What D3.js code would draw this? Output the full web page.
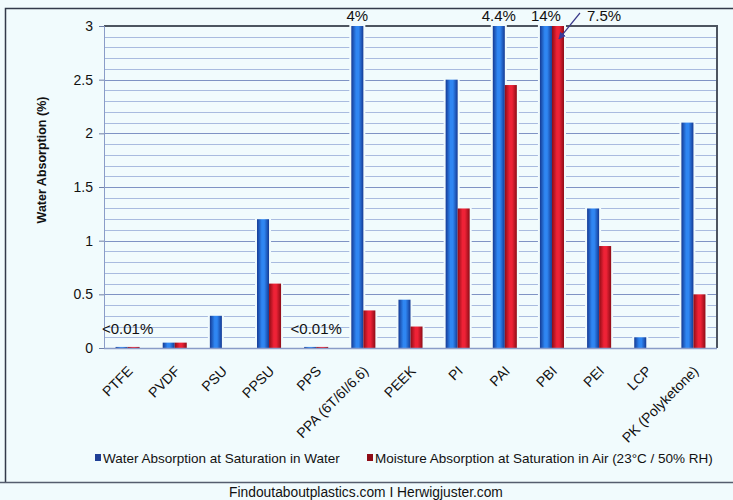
<!DOCTYPE html>
<html><head><meta charset="utf-8">
<script src="https://cdn.jsdelivr.net/npm/d3@7"></script>
<style>body{margin:0;background:#f1fbfd;} svg{display:block;font-family:"Liberation Sans",Arial,sans-serif;}</style>
</head><body>
<script>
const categories = ["PTFE","PVDF","PSU","PPSU","PPS","PPA (6T/6I/6.6)","PEEK","PI","PAI","PBI","PEI","LCP","PK (Polyketone)"];
const waterValues = [0.01,0.05,0.3,1.2,0.01,3,0.45,2.5,3,3,1.3,0.1,2.1];
const airValues   = [0.01,0.05,0,0.6,0.01,0.35,0.2,1.3,2.45,3,0.95,0,0.5];
const seriesNames = ["Water Absorption at Saturation in Water","Moisture Absorption at Saturation in Air (23°C / 50% RH)"];
const yTicks = [0,0.5,1,1.5,2,2.5,3];
const annotations = [
  {cat:"PPA (6T/6I/6.6)", s:0, text:"4%"},
  {cat:"PAI", s:0, text:"4.4%"},
  {cat:"PBI", s:0, text:"14%"}
];
const lowLabels = [{cat:"PTFE", text:"<0.01%"},{cat:"PPS", text:"<0.01%"}];

const W=733,H=500;
const svg=d3.select("body").append("svg").attr("width",W).attr("height",H);
svg.append("rect").attr("width",W).attr("height",H).attr("fill","#f1fbfd");
// outer frame
svg.append("path").attr("d","M5.5,482 L5.5,8.5 L733,8.5").attr("fill","none").attr("stroke","#333a4a").attr("stroke-width",1.5);
svg.append("line").attr("x1",0).attr("x2",W).attr("y1",482.5).attr("y2",482.5).attr("stroke","#555d6e").attr("stroke-width",1.5);

const defs=svg.append("defs");
function grad(id,edge,mid){
  const g=defs.append("linearGradient").attr("id",id).attr("x1","0").attr("x2","1").attr("y1","0").attr("y2","0");
  g.append("stop").attr("offset","0%").attr("stop-color",edge);
  g.append("stop").attr("offset","40%").attr("stop-color",mid);
  g.append("stop").attr("offset","60%").attr("stop-color",mid);
  g.append("stop").attr("offset","100%").attr("stop-color",edge);
}
grad("gb","#143a94","#2f86f2");
grad("gr","#8e0c16","#ee2236");

const m={l:104,r:717,t:26,b:348};
const x0=d3.scaleBand().domain(categories).range([m.l,m.r]).paddingInner(0.49).paddingOuter(0.245);
const x1=d3.scaleBand().domain([0,1]).range([0,x0.bandwidth()]);
const y=d3.scaleLinear().domain([0,3]).range([m.b,m.t]);

// gridlines
const minor=d3.range(1,30).map(d=>d/10);
svg.append("g").selectAll("line").data(minor).join("line")
  .attr("x1",m.l).attr("x2",m.r).attr("y1",d=>Math.round(y(d))+0.5).attr("y2",d=>Math.round(y(d))+0.5)
  .attr("stroke",d=>Math.abs(d*2-Math.round(d*2))<1e-6?"#7f93c4":"#a9bbdf").attr("stroke-width",1.2);
svg.append("line").attr("x1",m.l).attr("x2",m.r+1).attr("y1",m.t).attr("y2",m.t).attr("stroke","#4d5560").attr("stroke-width",2);
svg.append("line").attr("x1",m.r).attr("x2",m.r).attr("y1",m.t).attr("y2",m.b).attr("stroke","#4d5560").attr("stroke-width",2);

// y axis
const ya=svg.append("g").attr("transform",`translate(${m.l},0)`).call(d3.axisLeft(y).tickValues(yTicks).tickFormat(d3.format("")).tickSize(5).tickPadding(6));
ya.select(".domain").attr("stroke","#8a9cc8");
ya.selectAll(".tick line").attr("stroke","#6f7fa8");
ya.selectAll("text").attr("font-size",14).attr("fill","#111");
svg.append("text").attr("transform",`translate(46,160) rotate(-90)`).attr("text-anchor","middle")
  .attr("font-size",12.5).attr("font-weight","bold").attr("fill","#111").text("Water Absorption (%)");

// bars
const data=categories.map((c,i)=>({c,v:[waterValues[i],airValues[i]]}));
const groups=svg.append("g").selectAll("g").data(data).join("g").attr("transform",d=>`translate(${x0(d.c)},0)`);
const pts=d=>d.v.map((v,s)=>({v,s})).filter(e=>e.v>0);
groups.selectAll("rect.bg").data(pts).join("rect").attr("class","bg")
  .attr("x",d=>x1(d.s)-2).attr("width",x1.bandwidth()+4)
  .attr("y",d=>y(d.v)-2).attr("height",d=>y(0)-y(d.v)+2).attr("fill","#f1fbfd");
groups.selectAll("rect.bar").data(pts).join("rect").attr("class","bar")
  .attr("x",d=>x1(d.s)).attr("width",x1.bandwidth())
  .attr("y",d=>y(d.v)).attr("height",d=>Math.max(1.5,y(0)-y(d.v)))
  .attr("fill",d=>d.s===0?"url(#gb)":"url(#gr)");

// x axis line
svg.append("line").attr("x1",m.l).attr("x2",m.r).attr("y1",m.b+0.5).attr("y2",m.b+0.5).attr("stroke","#8a9cc8").attr("stroke-width",1.5);
// x labels
svg.append("g").selectAll("text").data(categories).join("text")
  .attr("transform",d=>`translate(${x0(d)+x0.bandwidth()/2+6},${m.b+24}) rotate(-45)`)
  .attr("text-anchor","end").attr("font-size",14).attr("fill","#111").text(d=>d);

// annotations
svg.append("g").selectAll("text").data(annotations).join("text")
  .attr("x",d=>x0(d.cat)+x1(d.s)+x1.bandwidth()/2).attr("y",m.t-5).attr("text-anchor","middle")
  .attr("font-size",15).attr("fill","#111").text(d=>d.text);
svg.append("text").attr("x",x0("PBI")+x1(1)+x1.bandwidth()+23).attr("y",m.t-5).attr("font-size",15).attr("fill","#111").text("7.5%");
defs.append("marker").attr("id","arr").attr("viewBox","0 0 10 10").attr("refX",9).attr("refY",5).attr("markerWidth",6).attr("markerHeight",6).attr("orient","auto")
  .append("path").attr("d","M0,0 L10,5 L0,10 z").attr("fill","#3a3a9a");
{
  const ex=x0("PBI")+x1(1)+x1.bandwidth()/2+1, ey=y(2.88);
  svg.append("line").attr("x1",ex+21).attr("y1",m.t-13).attr("x2",ex).attr("y2",ey)
    .attr("stroke","#3a3a8a").attr("stroke-width",1.2).attr("marker-end","url(#arr)");
}
svg.append("g").selectAll("text").data(lowLabels).join("text")
  .attr("x",d=>x0(d.cat)+x0.bandwidth()/2).attr("y",y(0.1)-3).attr("text-anchor","middle")
  .attr("font-size",15).attr("fill","#111").text(d=>d.text);

// legend
const lg=svg.append("g").attr("transform","translate(95,463)");
const colors=["#1f3f96","#8e0c16"];
const lx=[0,272];
seriesNames.forEach((n,i)=>{
  lg.append("rect").attr("x",lx[i]).attr("y",-9).attr("width",6).attr("height",7).attr("fill",colors[i]);
  lg.append("text").attr("x",lx[i]+8).attr("y",0).attr("font-size",13.5).attr("fill","#111").text(n);
});
svg.append("text").attr("x",366).attr("y",497).attr("text-anchor","middle").attr("font-size",13.8).attr("fill","#111").text("Findoutaboutplastics.com I Herwigjuster.com");
</script>
</body></html>
